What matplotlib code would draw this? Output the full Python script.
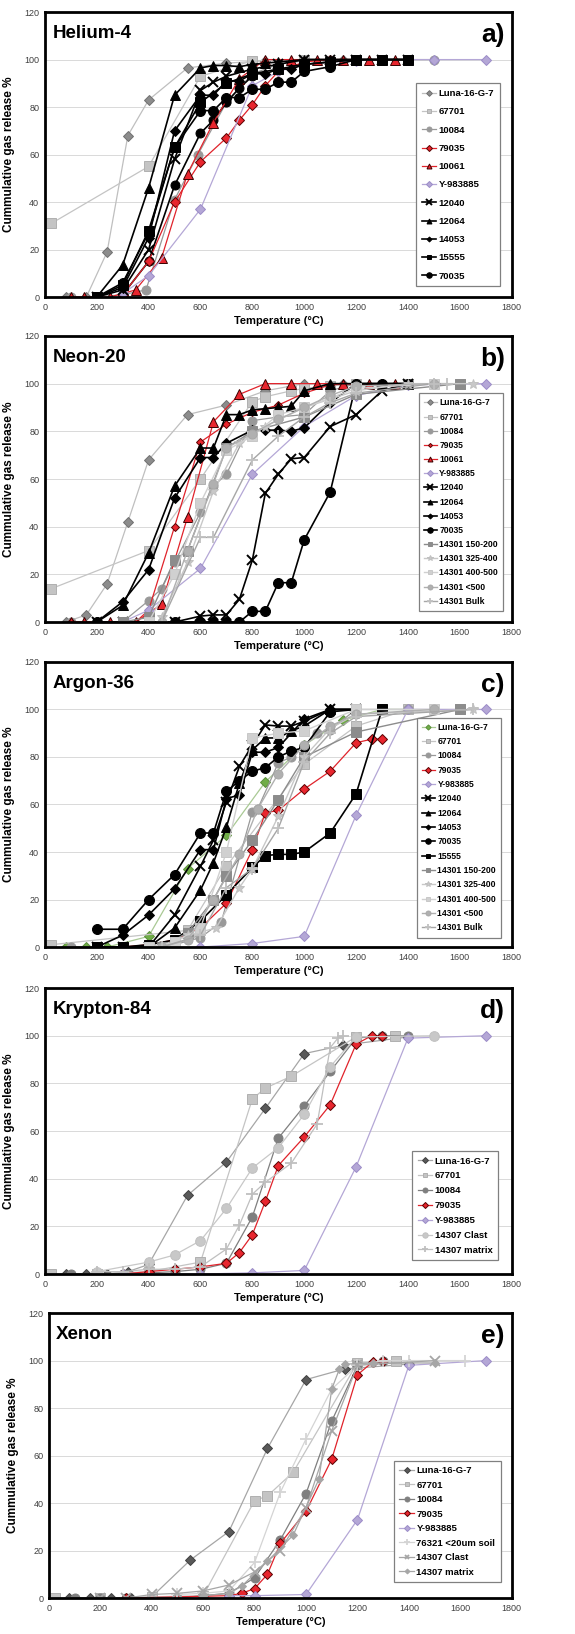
import matplotlib
matplotlib.use("Agg")
import matplotlib.pyplot as plt

plt.rcParams['font.family'] = ['Liberation Sans', 'DejaVu Sans']

# ---------------- Helium-4 ----------------
he_labels = ["Luna-16-G-7", "67701", "10084", "_10084b", "79035", "10061", "Y-983885",
             "12040", "12064", "14053", "15555", "70035"]
he_x = [
    [80, 160, 240, 320, 400, 550, 700, 850, 1000, 1150, 1300, 1400],
    [25, 400, 600, 800, 1000, 1200, 1400],
    [100, 200, 300, 390, 500, 590, 700, 800, 900, 1000, 1100, 1200, 1300, 1400, 1500],
    [300, 400, 500, 600, 650, 700, 750, 800],
    [300, 400, 500, 600, 700, 750, 800, 850, 900, 1000, 1100, 1200, 1300],
    [100, 150, 250, 350, 450, 550, 650, 750, 850, 950, 1050, 1150, 1250, 1350],
    [300, 400, 600, 800, 900, 1000, 1100, 1200, 1300, 1400, 1500, 1700],
    [200, 300, 400, 500, 600, 650, 700, 800, 900, 1000, 1100, 1200, 1300, 1400],
    [200, 300, 400, 500, 600, 650, 700, 750, 800, 850, 900, 1000, 1100, 1200],
    [200, 300, 400, 500, 600, 650, 700, 750, 800, 850, 900, 950, 1000, 1100, 1200, 1300, 1400],
    [200, 300, 400, 500, 600, 700, 800, 900, 1000, 1100, 1200, 1300, 1400],
    [200, 300, 400, 500, 600, 650, 700, 750, 800, 850, 900, 950, 1000, 1100, 1200, 1300, 1400],
]
he_y = [
    [0, 0, 19, 68, 83, 96.5, 98.5, 99.5, 100, 100, 100, 100],
    [31, 55, 93, 99.5, 100, 100, 100],
    [0, 0, 1, 3, 41, 60, 82, 94, 98, 99.5, 100, 100, 100, 100, 100],
    [1, 15, 47, 69, 74.5, 82, 88, 93],
    [1, 15, 40, 57, 67, 74.5, 81, 89, 95, 99, 100, 100, 100],
    [0, 0, 0, 3, 16.5, 52, 73.5, 92, 100, 100, 100, 100, 100, 100],
    [1.5, 9, 37, 89, 95, 98, 99, 99.5, 100, 100, 100, 100],
    [0, 3, 20, 58, 87, 90.5, 93, 96, 98, 100, 100, 100, 100, 100],
    [0, 13.5, 46, 85, 96.5, 97.5, 97.5, 97, 98, 98.5, 99, 100, 100, 100],
    [0, 4, 25, 70, 85, 85, 91, 91, 94, 94, 96, 96, 98, 99, 100, 100, 100],
    [0, 5, 28, 63, 82, 90, 94, 96, 98, 99, 100, 100, 100],
    [0, 6, 27, 63, 78.5, 78.5, 84, 84, 87.5, 87.5, 90.5, 90.5, 95, 97, 100, 100, 100],
]

# ---------------- Neon-20 ----------------
ne_labels = ["Luna-16-G-7", "67701", "10084", "79035", "10061", "Y-983885", "12040", "12064",
             "14053", "70035", "14301 150-200", "14301 325-400", "14301 400-500",
             "14301 <500", "14301 Bulk"]
ne_x = [
    [80, 160, 240, 320, 400, 550, 700, 850, 1000, 1150, 1300, 1400],
    [25, 400, 600, 800, 850, 950, 1000, 1100, 1200, 1400, 1600],
    [100, 200, 300, 400, 450, 500, 600, 650, 700, 800, 900, 1000, 1100, 1200, 1300, 1400],
    [100, 200, 300, 350, 400, 500, 600, 700, 800, 900, 1000, 1100, 1200, 1300, 1400],
    [100, 150, 250, 350, 450, 550, 650, 750, 850, 950, 1050, 1150, 1250, 1350],
    [300, 400, 600, 800, 1000, 1200, 1400, 1700],
    [200, 300, 400, 500, 600, 650, 700, 750, 800, 850, 900, 950, 1000, 1100, 1200, 1300, 1400],
    [200, 300, 400, 500, 600, 650, 700, 750, 800, 850, 900, 950, 1000, 1100, 1200, 1300, 1400],
    [200, 300, 400, 500, 600, 650, 700, 800, 850, 900, 950, 1000, 1100, 1200, 1300, 1400],
    [200, 300, 400, 500, 600, 650, 700, 750, 800, 850, 900, 950, 1000, 1100, 1200, 1300, 1400],
    [300, 400, 500, 550, 700, 800, 1000, 1200, 1600],
    [450, 550, 650, 750, 850, 1000, 1200, 1400, 1650],
    [400, 500, 600, 700, 800, 900, 1000, 1100, 1200, 1500],
    [450, 550, 650, 700, 800, 900, 1000, 1100, 1200, 1500],
    [450, 600, 650, 800, 900, 1000, 1100, 1200, 1500, 1550],
]
ne_y = [
    [0, 3, 16, 42, 68, 87, 91, 97, 100, 100, 100, 100],
    [14, 30, 60, 92.5, 94.5, 97, 98, 99, 100, 100, 100],
    [0, 0, 0, 9, 14, 25, 46, 57, 62, 84.5, 86, 87, 97, 100, 100, 100],
    [0, 0, 0, 0, 5, 40, 75.5, 83, 88, 91, 96, 99.5, 100, 100, 100],
    [0, 0, 0, 0, 7.5, 44, 84, 95.5, 100, 100, 100, 100, 100, 100],
    [0, 5, 22.5, 62, 82, 95, 99.5, 100],
    [0, 0, 0, 0, 2.5, 3, 3, 9.5, 26, 54, 62, 68.5, 69, 82, 87, 97, 100],
    [0, 7, 29, 57, 73, 73, 87, 87, 89, 89.5, 90, 90.5, 97, 100, 100, 100, 100],
    [0, 8.5, 22, 52, 69, 69, 75, 80.5, 80.5, 80.5, 80, 81.5, 92, 100, 100, 100],
    [0, 0, 0, 0, 0, 0, 0, 0, 4.5, 4.5, 16.5, 16.5, 34.5, 54.5, 100, 100, 100],
    [0, 2, 26, 30, 73, 80, 86, 95.5, 100],
    [2, 25, 55, 75, 82, 90, 97, 100, 100],
    [0, 20, 50, 72, 78, 87, 90, 94, 98, 100],
    [0, 30, 58, 73, 79, 85, 90, 95, 99, 100],
    [0, 35.5, 35.5, 68, 78, 86, 92, 96, 100, 100],
]

# ---------------- Argon-36 ----------------
ar_labels = ["Luna-16-G-7", "67701", "10084", "79035", "Y-983885", "12040", "12064", "14053",
             "70035", "15555", "14301 150-200", "14301 325-400", "14301 400-500",
             "14301 <500", "14301 Bulk"]
ar_x = [
    [80, 160, 240, 400, 550, 700, 850, 1000, 1150, 1300, 1400],
    [25, 550, 700, 1000, 1200, 1400, 1600],
    [100, 300, 500, 600, 680, 800, 820, 900, 950, 1050, 1100, 1200, 1300, 1400],
    [300, 400, 500, 600, 700, 800, 850, 900, 1000, 1100, 1200, 1260, 1300],
    [600, 800, 1000, 1200, 1400, 1700],
    [200, 300, 400, 500, 600, 650, 700, 750, 800, 850, 900, 950, 1000, 1100, 1200],
    [300, 400, 500, 600, 650, 700, 750, 800, 850, 900, 950, 1000, 1100, 1200],
    [200, 300, 400, 500, 600, 650, 700, 750, 800, 850, 900, 1000, 1100, 1200],
    [200, 300, 400, 500, 600, 650, 700, 750, 800, 850, 900, 950, 1000, 1100, 1200],
    [200, 300, 400, 500, 600, 700, 800, 850, 900, 950, 1000, 1100, 1200, 1300],
    [450, 550, 650, 700, 800, 900, 1000, 1200, 1600],
    [450, 550, 660, 750, 800, 900, 1000, 1100, 1200, 1650],
    [400, 500, 600, 700, 800, 900, 1000, 1200, 1500],
    [450, 550, 650, 750, 820, 900, 1000, 1100, 1200, 1500],
    [450, 600, 700, 800, 900, 1000, 1100, 1200, 1650],
]
ar_y = [
    [0, 0, 0, 4.5, 33, 47, 69.5, 85, 95.5, 100, 100],
    [1, 7, 34, 77, 93, 100, 100],
    [0, 0, 1, 4, 10.5, 57, 58, 77.5, 80, 90, 91.5, 100, 100, 100],
    [0, 1, 3, 8, 18.5, 41, 56.5, 57.5, 66.5, 74, 86, 87.5, 87.5],
    [0, 1.5, 4.5, 55.5, 100, 100],
    [0, 0, 0, 13.5, 34, 45, 61, 76, 85, 93.5, 93, 93, 95, 100, 100],
    [0, 0, 8, 24, 35.5, 50.5, 69, 83, 88, 88, 91, 93, 100, 100],
    [0, 5, 13.5, 24.5, 41, 41, 62.5, 64, 82, 82, 84, 96, 100, 100],
    [7.5, 7.5, 20, 30.5, 48, 48, 65.5, 70, 74, 75.5, 80, 82.5, 84, 99, 100],
    [0, 0, 1, 3, 11, 22, 33.5, 38.5, 39, 39, 40, 48, 64.5, 100],
    [0, 6, 20, 30, 45, 62, 80, 90.5, 100],
    [0, 5, 8, 25, 33, 55, 80, 92, 98, 100],
    [0, 2, 8, 40, 88, 90, 91, 100, 100],
    [0, 3, 20, 39, 58, 73, 85, 93, 98, 100],
    [0, 5, 25, 33, 50, 78, 90, 97, 100],
]

# ---------------- Krypton-84 ----------------
kr_labels = ["Luna-16-G-7", "67701", "10084", "79035", "Y-983885", "14307 Clast", "14307 matrix"]
kr_x = [
    [80, 160, 240, 320, 400, 550, 700, 850, 1000, 1150, 1400],
    [25, 200, 400, 600, 800, 850, 950, 1200, 1350],
    [100, 200, 300, 400, 500, 600, 700, 800, 900, 1000, 1100, 1200, 1300, 1400],
    [300, 400, 500, 600, 700, 750, 800, 850, 900, 1000, 1100, 1200, 1260, 1300],
    [300, 600, 800, 1000, 1200, 1400, 1700],
    [200, 400, 500, 600, 700, 800, 900, 1000, 1100, 1200, 1500],
    [200, 300, 400, 500, 600, 700, 750, 800, 850, 950, 1050, 1100, 1130, 1150],
]
kr_y = [
    [0, 0, 0, 1, 4, 33, 47, 69.5, 92.5, 96, 99.5],
    [0, 0, 1, 5, 73.5, 78, 83, 99.5, 100],
    [0, 0, 0, 0.5, 1, 2, 4.5, 24, 57, 70.5, 85, 99, 100, 100],
    [0, 1, 2, 3, 4.5, 9, 16.5, 30.5, 45.5, 57.5, 71, 96.5, 100, 100],
    [0, 0, 0.5, 1.5, 45, 99, 100],
    [1, 5, 8, 14, 27.5, 44.5, 53, 67, 87, 99.5, 100],
    [1, 1, 2, 2, 3, 10.5, 20.5, 33.5, 38.5, 46.5, 63, 95, 99, 100],
]

# ---------------- Xenon ----------------
xe_labels = ["Luna-16-G-7", "67701", "10084", "79035", "Y-983885", "76321 <20um soil",
             "14307 Clast", "14307 matrix"]
xe_x = [
    [80, 160, 240, 320, 400, 550, 700, 850, 1000, 1150, 1400],
    [25, 200, 400, 600, 800, 850, 950, 1200, 1350],
    [100, 200, 300, 500, 600, 700, 800, 900, 1000, 1100, 1200, 1300],
    [300, 700, 750, 800, 850, 900, 1000, 1100, 1200, 1260, 1300],
    [700, 800, 1000, 1200, 1400, 1700],
    [500, 600, 700, 800, 900, 1000, 1100, 1200, 1300, 1400, 1620],
    [200, 300, 400, 500, 600, 700, 800, 900, 1000, 1100, 1200, 1500],
    [600, 700, 750, 850, 950, 1050, 1100, 1130, 1150, 1260, 1500],
]
xe_y = [
    [0, 0, 0, 0, 0.5, 16, 28, 63, 92, 96.5, 98.5],
    [0, 0, 0.5, 1, 41, 43, 53, 99, 100],
    [0, 0, 0, 0, 1, 2, 8.5, 24.5, 44, 74.5, 98, 100],
    [0, 1, 2, 4, 10, 23, 36.5, 58.5, 94, 99.5, 100],
    [1, 1, 1.5, 33, 98, 100],
    [1.5, 2, 3, 15, 44.5, 67, 88, 98, 100, 100, 100],
    [0, 0, 1.5, 2, 3, 5.5, 11, 20, 38, 70.5, 98, 100],
    [1, 2, 5, 15.5, 26.5, 50, 88, 96.5, 98.5, 99, 99],
]

panel_names = ["Helium-4", "Neon-20", "Argon-36", "Krypton-84", "Xenon"]
panel_tags = ["a)", "b)", "c)", "d)", "e)"]
x_ticks = [0, 200, 400, 600, 800, 1000, 1200, 1400, 1600, 1800]
y_ticks = [0, 20, 40, 60, 80, 100, 120]


def style_for(label, panel):
    base = label.lstrip("_")
    s = dict(color="#000000", marker="o", mfc="#000000", mec="#000000", ms=6.5, lw=1.2)
    if base == "Luna-16-G-7":
        if panel == 2:
            s.update(color="#a9c994", mfc="#70ad47", mec="#5a8f3a", marker="D", ms=4.8, lw=0.9)
        elif panel >= 3:
            s.update(color="#a6a6a6", mfc="#595959", mec="#404040", marker="D", ms=5.5, lw=0.9)
        else:
            s.update(color="#bfbfbf", mfc="#8c8c8c", mec="#707070", marker="D", ms=5.3, lw=0.9)
    elif base == "67701":
        s.update(color="#c4c4c4", mfc="#c4c4c4", mec="#b0b0b0", marker="s", ms=6.5, lw=0.9)
    elif base == "10084":
        c = "#7f7f7f" if panel >= 3 else "#999999"
        s.update(color=c, mfc=c, mec=c, marker="o", ms=6.5, lw=0.9)
    elif base == "79035":
        s.update(color="#e0232b", mfc="#e8262e", mec="#5a0000", marker="D", ms=5.6, lw=0.9)
        if panel == 1:
            s.update(ms=3.8)
    elif base == "10061":
        s.update(color="#e0232b", mfc="#e8262e", mec="#3a0000", marker="^", ms=6.5, lw=0.9)
    elif base == "Y-983885":
        s.update(color="#b4a7d6", mfc="#b4a7d6", mec="#9b8cc8", marker="D", ms=5.6, lw=0.9)
    elif base == "12040":
        s.update(marker="x", ms=7, mew=1.4)
    elif base == "12064":
        s.update(marker="^", ms=6.5)
    elif base == "14053":
        s.update(marker="D", ms=4.6)
    elif base == "15555":
        s.update(marker="s", ms=6.5)
    elif base == "70035":
        s.update(marker="o", ms=7.2)
    elif base == "14301 150-200":
        s.update(color="#8c8c8c", mfc="#8c8c8c", mec="#8c8c8c", marker="s", ms=6.5, lw=1.0)
    elif base == "14301 325-400":
        s.update(color="#c8c8c8", mfc="#c8c8c8", mec="#c0c0c0", marker="*", ms=7.5, lw=1.0)
    elif base == "14301 400-500":
        s.update(color="#d0d0d0", mfc="#d0d0d0", mec="#c8c8c8", marker="s", ms=6.5, lw=1.0)
    elif base == "14301 <500":
        s.update(color="#b0b0b0", mfc="#b0b0b0", mec="#a8a8a8", marker="o", ms=6.5, lw=1.0)
    elif base == "14301 Bulk":
        s.update(color="#a6a6a6", mfc="#c0c0c0", mec="#c0c0c0", marker="+", ms=8, lw=1.0, mew=1.3)
    elif base == "14307 Clast":
        if panel == 4:
            s.update(color="#a6a6a6", mfc="#a6a6a6", mec="#a6a6a6", marker="x", ms=6.5, lw=0.9, mew=1.3)
        else:
            s.update(color="#c8c8c8", mfc="#c8c8c8", mec="#c0c0c0", marker="o", ms=7, lw=0.9)
    elif base == "14307 matrix":
        if panel == 4:
            s.update(color="#a6a6a6", mfc="#a6a6a6", mec="#a6a6a6", marker="D", ms=4.5, lw=0.9)
        else:
            s.update(color="#bfbfbf", mfc="#bfbfbf", mec="#bfbfbf", marker="+", ms=8, lw=0.9, mew=1.3)
    elif base == "76321 <20um soil":
        s.update(color="#d4d4d4", mfc="#d4d4d4", mec="#d4d4d4", marker="+", ms=8, lw=0.9, mew=1.3)
    return s


panels = [
    (he_labels, he_x, he_y),
    (ne_labels, ne_x, ne_y),
    (ar_labels, ar_x, ar_y),
    (kr_labels, kr_x, kr_y),
    (xe_labels, xe_x, xe_y),
]

# axes boxes in figure fractions: left, bottom, width, height
boxes = [
    (0.078, 0.8182, 0.812, 0.1744),
    (0.078, 0.6193, 0.812, 0.1751),
    (0.078, 0.4204, 0.812, 0.1745),
    (0.078, 0.2203, 0.812, 0.1750),
    (0.085, 0.0220, 0.805, 0.1744),
]
leg_anchor = [(0.985, 0.021), (0.991, 0.024), (0.987, 0.018), (0.981, 0.031), (0.987, 0.039)]
leg_size = [6.8, 6.2, 6.2, 6.8, 6.8]
leg_space = [0.98, 0.6, 0.62, 0.62, 0.58]

fig = plt.figure(figsize=(5.75, 16.34), dpi=100)

for i, (labels, xs, ys) in enumerate(panels):
    ax = fig.add_axes(boxes[i])
    for lab, tx, vy in zip(labels, xs, ys):
        s = style_for(lab, i)
        ax.plot(tx, vy, color=s["color"], lw=s["lw"], marker=s["marker"],
                markerfacecolor=s["mfc"], markeredgecolor=s["mec"],
                markersize=s["ms"], markeredgewidth=s.get("mew", 0.7), label=lab)

    ax.set_xlim(0, 1800)
    ax.set_ylim(0, 120)
    ax.set_xticks(x_ticks)
    ax.set_yticks(y_ticks)
    ax.tick_params(length=0, labelsize=6.5, labelcolor="#404040", pad=4)
    for sp in ax.spines.values():
        sp.set_linewidth(2.0)
        sp.set_color("black")
    for yv in y_ticks[1:-1]:
        ax.axhline(yv, color="#d9d9d9", lw=0.7, zorder=0)

    ax.set_ylabel("Cummulative gas release %", fontsize=8.5, fontweight="bold")
    ax.yaxis.set_label_coords(-0.064, 0.5)
    ax.set_xlabel("Temperature (°C)", fontsize=8, fontweight="bold")
    ax.xaxis.set_label_coords(0.5, -0.065)

    ax.text(0.016, 0.925, panel_names[i], transform=ax.transAxes, fontsize=13.5,
            fontweight="bold", ha="left", va="center")
    ax.text(0.985, 0.92, panel_tags[i], transform=ax.transAxes, fontsize=19,
            fontweight="bold", ha="right", va="center")

    leg = ax.legend(loc="lower right", bbox_to_anchor=leg_anchor[i],
                    prop={"weight": "bold", "size": leg_size[i]},
                    labelspacing=leg_space[i], handlelength=1.5, handletextpad=0.3,
                    borderpad=0.6, fancybox=False, framealpha=1, edgecolor="#808080",
                    markerscale=0.55)
    leg.get_frame().set_linewidth(0.9)

plt.savefig("out.png", dpi=100)
